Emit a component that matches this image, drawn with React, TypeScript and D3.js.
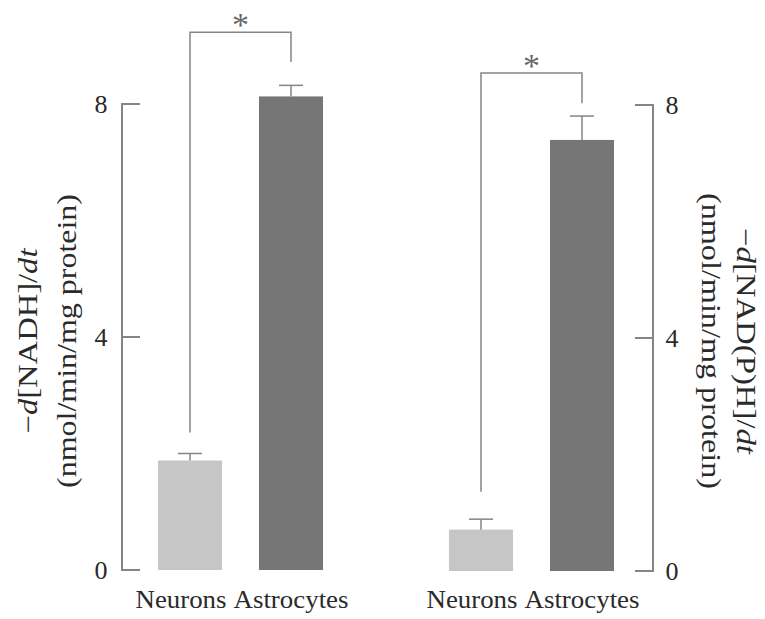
import React from "react";
import * as d3 from "d3";

const categories = ["Neurons", "Astrocytes"];
const nadhMeans = [1.88, 8.13];
const nadhErrors = [0.12, 0.19];
const nadphMeans = [0.71, 7.4];
const nadphErrors = [0.18, 0.41];
const yTicks = [0, 4, 8];
const leftLabel = ["\u2212d[NADH]/dt", "(nmol/min/mg protein)"];
const rightLabel = ["\u2212d[NAD(P)H]/dt", "(nmol/min/mg protein)"];
// significance bracket: [left arm bottom, top, right arm bottom] in data units
const leftBracket = [2.36, 9.23, 8.72];
const rightBracket = [1.36, 8.55, 8.03];

const barColors = ["#c6c6c6", "#767676"];
const lineColor = "#858585";
const textColor = "#2a2a2a";
const FONT = "'Liberation Serif', 'Times New Roman', serif";

function renderYLabel(s: string) {
  const m = s.match(/^(\u2212)(d)(.*\/)(dt)$/);
  if (!m) return s;
  return (
    <>
      <tspan>{m[1]}</tspan>
      <tspan fontStyle="italic">{m[2]}</tspan>
      <tspan>{m[3]}</tspan>
      <tspan fontStyle="italic">{m[4]}</tspan>
    </>
  );
}

type PanelProps = {
  means: number[];
  errors: number[];
  bracket: number[];
  xRange: [number, number];
  yRange: [number, number];
  axisX: number;
  side: "left" | "right";
  label: string[];
  labelX: [number, number];
  labelLens: [number, number];
  labelCenterY: number;
};

function Panel(p: PanelProps) {
  const x = d3
    .scaleBand<string>()
    .domain(categories)
    .range(p.xRange)
    .paddingInner(0.366)
    .paddingOuter(0.183);
  const y = d3.scaleLinear().domain([0, 8]).range(p.yRange);
  const bw = x.bandwidth();
  const tickLen = 18;
  const dir = p.side === "left" ? 1 : -1;
  const cx = (c: string) => (x(c) as number) + bw / 2;
  const capW = 24;
  const bx0 = cx(categories[0]);
  const bx1 = cx(categories[1]);
  return (
    <g>
      <line x1={p.axisX} x2={p.axisX} y1={y(0)} y2={y(8)} stroke={lineColor} strokeWidth={2} />
      {yTicks.map((t) => (
        <g key={t}>
          <line
            x1={p.axisX - dir}
            x2={p.axisX + dir * tickLen}
            y1={y(t)}
            y2={y(t)}
            stroke={lineColor}
            strokeWidth={2}
          />
          <text
            x={p.side === "left" ? p.axisX - 21 : p.axisX + 19}
            y={y(t)}
            dy="0.34em"
            fontSize={26}
            fontFamily={FONT}
            fill={textColor}
            textAnchor="middle"
          >
            {t}
          </text>
        </g>
      ))}
      {categories.map((c, i) => (
        <g key={c}>
          <rect x={x(c)} y={y(p.means[i])} width={bw} height={y(0) - y(p.means[i])} fill={barColors[i]} />
          <line
            x1={cx(c)}
            x2={cx(c)}
            y1={y(p.means[i])}
            y2={y(p.means[i] + p.errors[i])}
            stroke={lineColor}
            strokeWidth={1.5}
          />
          <line
            x1={cx(c) - capW / 2}
            x2={cx(c) + capW / 2}
            y1={y(p.means[i] + p.errors[i])}
            y2={y(p.means[i] + p.errors[i])}
            stroke={lineColor}
            strokeWidth={1.5}
          />
        </g>
      ))}
      <text
        x={cx(categories[0]) - 9}
        y={608}
        fontSize={25}
        fontFamily={FONT}
        fill={textColor}
        textAnchor="middle"
        textLength={91}
        lengthAdjust="spacingAndGlyphs"
      >
        {categories[0]}
      </text>
      <text
        x={cx(categories[1])}
        y={608}
        fontSize={25}
        fontFamily={FONT}
        fill={textColor}
        textAnchor="middle"
        textLength={115}
        lengthAdjust="spacingAndGlyphs"
      >
        {categories[1]}
      </text>
      <path
        d={`M${bx0},${y(p.bracket[0])}V${y(p.bracket[1])}H${bx1}V${y(p.bracket[2])}`}
        fill="none"
        stroke={lineColor}
        strokeWidth={1.5}
      />
      <text
        x={(bx0 + bx1) / 2}
        y={y(p.bracket[1]) + 4}
        fontSize={34}
        fontFamily={FONT}
        fill="#666"
        textAnchor="middle"
      >
        *
      </text>
      {p.label.map((s, i) => (
        <text
          key={i}
          transform={`translate(${p.labelX[i]},${p.labelCenterY}) rotate(${p.side === "left" ? -90 : 90})`}
          fontSize={27}
          fontFamily={FONT}
          fill={textColor}
          textAnchor="middle"
          textLength={p.labelLens[i]}
          lengthAdjust="spacingAndGlyphs"
        >
          {renderYLabel(s)}
        </text>
      ))}
    </g>
  );
}

export default function App() {
  return (
    <div style={{ position: "absolute", left: 0, top: 0 }}>
      <svg width={765} height={619} style={{ display: "block", background: "#fff" }}>
        <Panel
          means={nadhMeans}
          errors={nadhErrors}
          bracket={leftBracket}
          xRange={[139.5, 341.5]}
          yRange={[570, 104]}
          axisX={122}
          side="left"
          label={leftLabel}
          labelX={[37, 76]}
          labelLens={[185, 294]}
          labelCenterY={341}
        />
        <Panel
          means={nadphMeans}
          errors={nadphErrors}
          bracket={rightBracket}
          xRange={[430.5, 632.5]}
          yRange={[571, 105]}
          axisX={653}
          side="right"
          label={rightLabel}
          labelX={[737, 702]}
          labelLens={[226, 296]}
          labelCenterY={341}
        />
      </svg>
    </div>
  );
}
